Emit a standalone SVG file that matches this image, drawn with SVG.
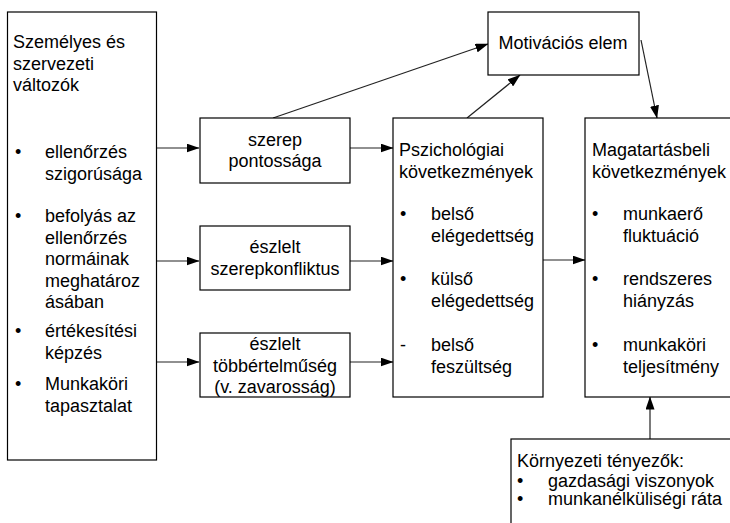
<svg xmlns="http://www.w3.org/2000/svg" width="730" height="523" viewBox="0 0 730 523">
  <defs>
    <marker id="arrow" markerWidth="13" markerHeight="9" refX="12.5" refY="4.5" orient="auto" markerUnits="userSpaceOnUse">
      <path d="M0,0 L13,4.5 L0,9 Z" fill="#000"/>
    </marker>
    <style>
      .box { fill: #fff; stroke: #000; stroke-width: 1.2; }
      .t { font-family: "Liberation Sans", Arial, sans-serif; font-size: 18px; fill: #000; }
      .c { text-anchor: middle; }
      .edge { stroke: #222; stroke-width: 1.2; fill: none; marker-end: url(#arrow); }
    </style>
  </defs>
  <rect width="730" height="523" fill="#fff"/>

  <!-- connectors -->
  <g id="connectors">
    <line class="edge" x1="157" y1="148" x2="199" y2="148"/>
    <line class="edge" x1="157" y1="261" x2="199" y2="261"/>
    <line class="edge" x1="157" y1="362" x2="199" y2="362"/>
    <line class="edge" x1="350" y1="148" x2="393" y2="148"/>
    <line class="edge" x1="350" y1="261" x2="393" y2="261"/>
    <line class="edge" x1="350" y1="362" x2="393" y2="362"/>
    <line class="edge" x1="543" y1="260" x2="585" y2="260"/>
    <line class="edge" x1="273" y1="118" x2="488" y2="44"/>
    <line class="edge" x1="467" y1="118" x2="520" y2="75"/>
    <line class="edge" x1="641" y1="40" x2="657" y2="118"/>
    <line class="edge" x1="650" y1="439" x2="650" y2="397"/>
  </g>

  <!-- personal and organisational variables -->
  <g id="valtozok">
    <rect class="box" x="7.5" y="12" width="149" height="448"/>
    <text class="t" x="13" y="48">Személyes és</text>
    <text class="t" x="13" y="69.5">szervezeti</text>
    <text class="t" x="13" y="91">változók</text>
    <text class="t" x="15" y="158">•</text>
    <text class="t" x="45" y="158">ellenőrzés</text>
    <text class="t" x="45" y="179.5">szigorúsága</text>
    <text class="t" x="15" y="222">•</text>
    <text class="t" x="45" y="222">befolyás az</text>
    <text class="t" x="45" y="243.5">ellenőrzés</text>
    <text class="t" x="45" y="265">normáinak</text>
    <text class="t" x="45" y="286.5">meghatároz</text>
    <text class="t" x="45" y="308">ásában</text>
    <text class="t" x="15" y="337">•</text>
    <text class="t" x="45" y="337">értékesítési</text>
    <text class="t" x="45" y="358.5">képzés</text>
    <text class="t" x="15" y="390">•</text>
    <text class="t" x="45" y="390">Munkaköri</text>
    <text class="t" x="45" y="411.5">tapasztalat</text>
  </g>

  <!-- role clarity -->
  <g id="szerep">
    <rect class="box" x="200" y="118" width="150" height="65"/>
    <text class="t c" x="275" y="146">szerep</text>
    <text class="t c" x="275" y="167">pontossága</text>
  </g>

  <!-- perceived role conflict -->
  <g id="konfliktus">
    <rect class="box" x="200" y="226" width="150" height="64"/>
    <text class="t c" x="275" y="253">észlelt</text>
    <text class="t c" x="275" y="274.5">szerepkonfliktus</text>
  </g>

  <!-- perceived ambiguity -->
  <g id="tobbertelmuseg">
    <rect class="box" x="200" y="333" width="150" height="64"/>
    <text class="t c" x="275" y="350">észlelt</text>
    <text class="t c" x="275" y="371.5">többértelműség</text>
    <text class="t c" x="275" y="393">(v. zavarosság)</text>
  </g>

  <!-- motivational element -->
  <g id="motivacio">
    <rect class="box" x="488" y="12" width="151" height="63"/>
    <text class="t c" x="563" y="49">Motivációs elem</text>
  </g>

  <!-- psychological consequences -->
  <g id="pszichologiai">
    <rect class="box" x="393" y="118" width="150" height="279"/>
    <text class="t" x="399" y="156">Pszichológiai</text>
    <text class="t" x="399" y="177.5">következmények</text>
    <text class="t" x="400" y="220">•</text>
    <text class="t" x="431" y="220">belső</text>
    <text class="t" x="431" y="242">elégedettség</text>
    <text class="t" x="400" y="285">•</text>
    <text class="t" x="431" y="285">külső</text>
    <text class="t" x="431" y="307">elégedettség</text>
    <text class="t" x="400" y="351">-</text>
    <text class="t" x="431" y="351">belső</text>
    <text class="t" x="431" y="373">feszültség</text>
  </g>

  <!-- behavioural consequences -->
  <g id="magatartasbeli">
    <rect class="box" x="585" y="118" width="160" height="279"/>
    <text class="t" x="592" y="156">Magatartásbeli</text>
    <text class="t" x="592" y="177.5">következmények</text>
    <text class="t" x="592" y="220">•</text>
    <text class="t" x="623" y="220">munkaerő</text>
    <text class="t" x="623" y="242">fluktuáció</text>
    <text class="t" x="592" y="285">•</text>
    <text class="t" x="623" y="285">rendszeres</text>
    <text class="t" x="623" y="307">hiányzás</text>
    <text class="t" x="592" y="351">•</text>
    <text class="t" x="623" y="351">munkaköri</text>
    <text class="t" x="623" y="373">teljesítmény</text>
  </g>

  <!-- environmental factors -->
  <g id="kornyezeti">
    <rect class="box" x="511" y="439" width="240" height="100"/>
    <text class="t" x="517" y="467">Környezeti tényezők:</text>
    <text class="t" x="517" y="486.5">•</text>
    <text class="t" x="548" y="486.5">gazdasági viszonyok</text>
    <text class="t" x="517" y="505">•</text>
    <text class="t" x="548" y="505">munkanélküliségi ráta</text>
  </g>
</svg>
